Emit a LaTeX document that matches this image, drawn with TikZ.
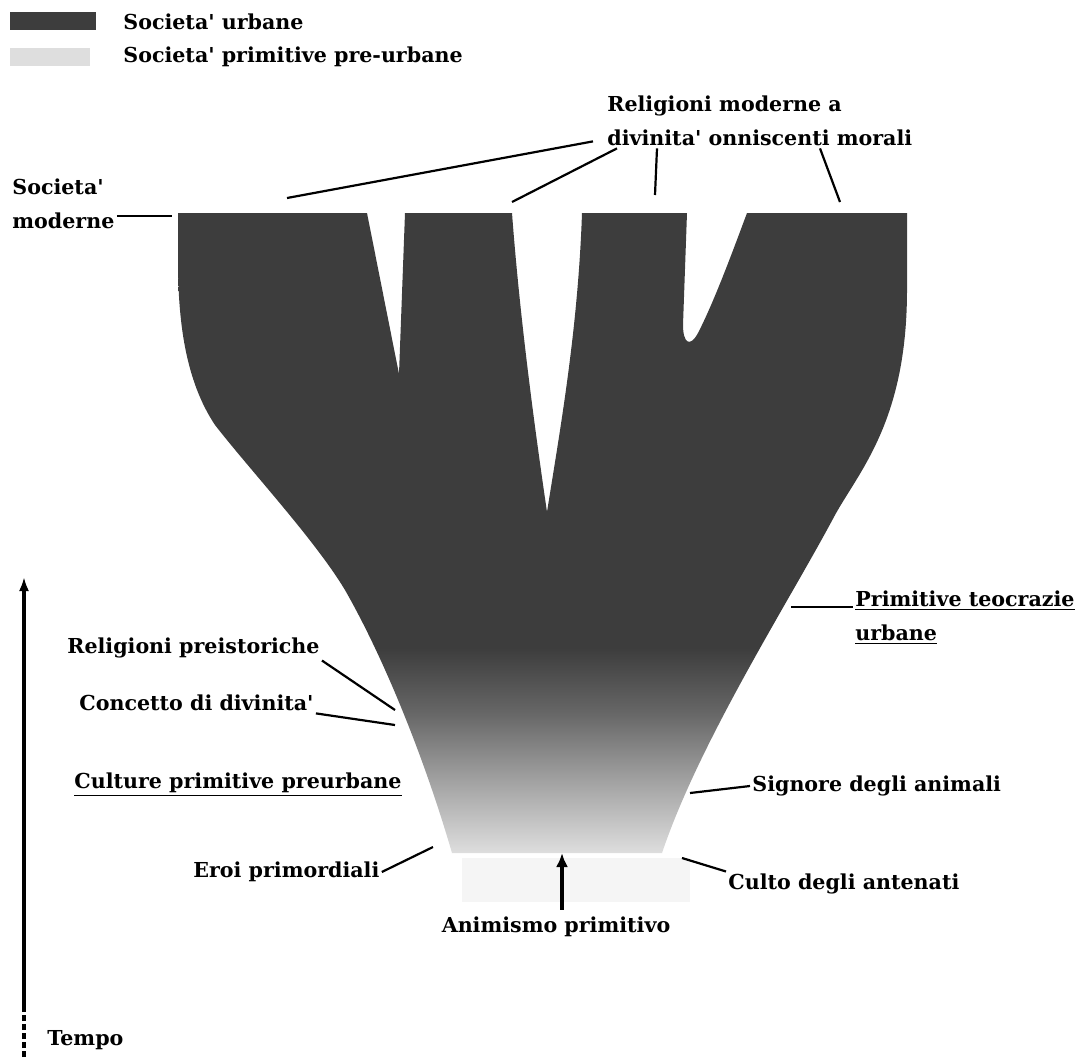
\documentclass[tikz,border=0pt]{standalone}
\usepackage{fontspec}
\setmainfont{DejaVu Serif}
\usepackage{xcolor}
\usepackage{tikz}
\usetikzlibrary{positioning,arrows.meta,calc}

\colorlet{urbdark}{black!76}
\colorlet{urbmid}{black!60}
\colorlet{urblight}{black!36}
\colorlet{preurb}{black!13}
\pgfdeclareverticalshading{urbfade}{100bp}{color(0bp)=(preurb); color(25bp)=(preurb); color(30.5bp)=(urblight); color(36bp)=(urbmid); color(41bp)=(urbdark); color(100bp)=(urbdark)}
\newcommand{\apo}{\textquotesingle}

\begin{document}
\begin{tikzpicture}[x=0.5pt, y=-0.5pt, font=\bfseries\fontsize{10.3}{17}\selectfont,
  lbl/.style={inner sep=1pt, align=left, anchor=west},
  lead/.style={line width=1.1pt}]
  \useasboundingbox (0,0) rectangle (1082,1057);

  \fill[urbdark] (10,12) rectangle (96,30);
  \fill[preurb] (10,48) rectangle (90,66);
  \node[lbl] (legurb) at (121,22) {Societa\apo{} urbane};
  \node[lbl] (legpre) at (121,57) {Societa\apo{} primitive pre-urbane};

  \fill[black!4] (462,858) rectangle (690,902);
  \shade[shading=urbfade]
    (178,213) -- (367,213) -- (399,374) -- (405,213) -- (512,213)
    .. controls (520,320) and (535,430) .. (547,512)
    .. controls (560,430) and (578,330) .. (582,213) -- (687,213) -- (683,325)
    .. controls (683,343) and (690,348) .. (698,333)
    .. controls (715,300) and (735,245) .. (747,213) -- (907,213) -- (907,290)
    .. controls (907,420) and (860,470) .. (835,515)
    .. controls (790,600) and (700,740) .. (662,853) -- (452,853)
    .. controls (425,760) and (385,660) .. (345,590)
    .. controls (315,540) and (250,470) .. (215,425)
    .. controls (185,380) and (178,320) .. (178,260) -- cycle;

  \coordinate (relA) at (287,198);
  \coordinate (relB) at (512,202);
  \coordinate (relC) at (655,195);
  \coordinate (relD) at (840,202);
  \coordinate (modB) at (172,216);
  \coordinate (teoB) at (791,607);
  \coordinate (preB) at (395,710);
  \coordinate (conB) at (395,725);
  \coordinate (eroiB) at (433,847);
  \coordinate (signB) at (690,793);
  \coordinate (cultoB) at (682,858);
  \coordinate (animtip) at (562,853);
  \coordinate (tfoot) at (24,1057);
  \coordinate (tdash) at (24,1010);
  \coordinate (ttop) at (24,577);

  \node[lbl] (religioni) at (605,121) {Religioni moderne a\\divinita\apo{} onniscenti morali};
  \node[lbl] (moderne) at (10,204) {Societa\apo\\moderne};
  \node[lbl] (teocrazie) at (853,618) {\underline{Primitive teocrazie}\\\underline{urbane}};
  \node[lbl] (preist) at (65,648) {Religioni preistoriche};
  \node[lbl] (concetto) at (77,703) {Concetto di divinita\apo};
  \node[lbl] (culture) at (72,785) {\underline{Culture primitive preurbane}};
  \node[lbl] (eroi) at (191,872) {Eroi primordiali};
  \node[lbl] (signore) at (750,786) {Signore degli animali};
  \node[lbl] (culto) at (726,884) {Culto degli antenati};
  \node (animismo) at (556,927) {Animismo primitivo};
  \node[lbl] (tempo) at (45,1040) {Tempo};

  \foreach \dx/\dy/\tgt in {-12/-7/relA, 12/0/relB, 52/0/relC, 215/0/relD}
    \draw[lead] ($(religioni.south west)+(\dx,\dy)$) -- (\tgt);
  \draw[lead] (moderne.east |- modB) -- (modB);
  \draw[lead] (teoB) -- (teocrazie.west |- teoB);
  \draw[lead] (preist.south east) -- (preB);
  \draw[lead] (concetto.south east) -- (conB);
  \draw[lead] (eroi.east) -- (eroiB);
  \draw[lead] (signB) -- (signore.west);
  \draw[lead] (cultoB) -- (culto.north west);
  \draw[line width=2pt, -{Latex[length=7pt, width=6pt]}] (animismo.north -| animtip) -- (animtip);
  \draw[line width=2pt, -{Latex[length=7pt, width=5pt]}] (tdash) -- (ttop);
  \draw[line width=2pt, dash pattern=on 3pt off 1.5pt] (tfoot) -- (tdash);
\end{tikzpicture}
\end{document}
